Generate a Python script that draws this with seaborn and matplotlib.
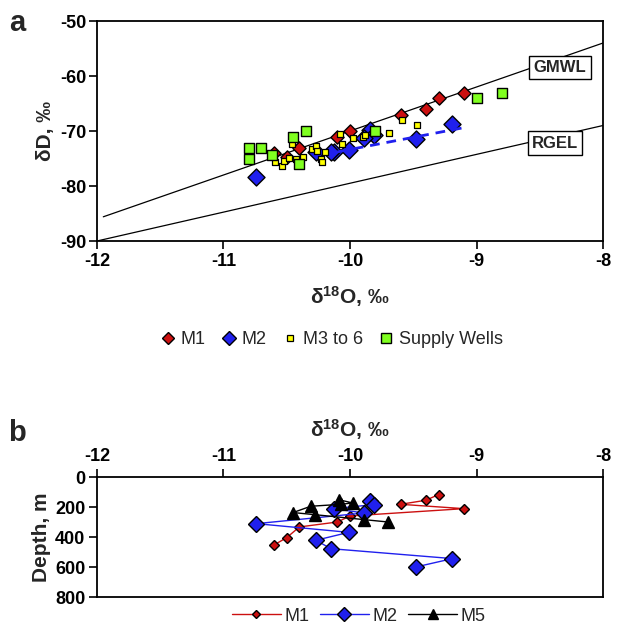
import numpy as np
import pandas as pd
import seaborn as sns
import matplotlib.pyplot as plt
from matplotlib.lines import Line2D

# ---- panel a: dD vs d18O ----
m1_o18 = [-9.3, -9.4, -9.6, -9.1, -10.0, -10.1, -10.4, -10.5, -10.6]
m1_dD = [-64.0, -66.0, -67.0, -63.0, -70.0, -71.0, -73.0, -74.8, -74.0]
m1_depth = [117, 155, 182, 211, 260, 300, 333, 404, 453]

m2_o18 = [-9.84, -9.81, -10.13, -9.89, -10.74, -10.01, -10.27, -10.15, -9.19, -9.48]
m2_dD = [-69.9, -70.7, -73.9, -71.2, -78.3, -73.4, -73.8, -73.9, -68.8, -71.5]
m2_depth = [160, 184, 211, 240, 311, 369, 422, 478, 544, 600]

m5_o18 = [-10.09, -9.98, -10.07, -10.31, -10.45, -10.28, -9.89, -9.70]
m5_depth = [151, 173, 182, 195, 237, 251, 284, 300]

m36_o18 = [-10.46, -10.59, -10.54, -10.52, -10.48, -10.43, -10.37, -10.30, -10.27, -10.26,
           -10.23, -10.22, -10.20, -10.08, -10.06, -9.98, -9.90, -9.88, -9.69, -9.59, -9.47]
m36_dD = [-72.4, -75.7, -76.4, -75.4, -74.9, -75.0, -74.8, -73.3, -72.8, -73.6,
          -75.0, -75.6, -73.9, -70.6, -72.3, -71.3, -71.0, -70.8, -70.4, -68.0, -68.9]

sw_o18 = [-10.8, -10.8, -10.7, -10.62, -10.45, -10.35, -10.4, -9.8, -9.0, -8.8]
sw_dD = [-73.0, -75.0, -73.0, -74.3, -71.0, -70.0, -76.0, -70.0, -64.0, -63.0]

# meteoric water lines and M2 trend
gmwl_x = np.array([-11.95, -8.0])
gmwl_d = 8 * gmwl_x + 10
rgel_x = [-12.0, -8.0]
rgel_d = [-90.0, -69.0]
trend_x = [-10.1, -9.08]
trend_d = [-73.8, -69.3]

RED = "#cc1010"
BLUE = "#2020ee"
YEL = "#ffff00"
GRN = "#80ff20"

sns.set_style("ticks")
plt.rcParams['font.family'] = ['Liberation Sans', 'DejaVu Sans']
plt.rcParams['axes.unicode_minus'] = False
plt.rcParams['mathtext.fontset'] = 'custom'
plt.rcParams['mathtext.rm'] = 'Liberation Sans:bold'
plt.rcParams['mathtext.bf'] = 'Liberation Sans:bold'

fig = plt.figure(figsize=(6.24, 6.25), dpi=100)
ax = fig.add_axes([0.1554, 0.6144, 0.811, 0.352])
ax2 = fig.add_axes([0.1554, 0.0448, 0.811, 0.192])

ax.plot(gmwl_x, gmwl_d, color="black", lw=0.9, zorder=1)
ax.plot(rgel_x, rgel_d, color="black", lw=0.9, zorder=1)

sns.scatterplot(x=m1_o18, y=m1_dD, marker="D", s=45, color=RED, edgecolor="black",
                linewidth=1.0, ax=ax, zorder=3)
sns.scatterplot(x=m2_o18, y=m2_dD, marker="D", s=75, color=BLUE, edgecolor="black",
                linewidth=1.0, ax=ax, zorder=3)
ax.plot(trend_x, trend_d, color=BLUE, lw=2.0, dashes=(3.5, 2.5), zorder=3)
sns.scatterplot(x=m36_o18, y=m36_dD, marker="s", s=16, color=YEL, edgecolor="black",
                linewidth=0.9, ax=ax, zorder=4)
sns.scatterplot(x=sw_o18, y=sw_dD, marker="s", s=50, color=GRN, edgecolor="black",
                linewidth=1.0, ax=ax, zorder=4)

box = dict(facecolor="white", edgecolor="black", boxstyle="square,pad=0.25", lw=1.0)
ax.text(-8.34, -58.4, "GMWL", fontsize=12, fontweight="bold", ha="center", va="center", bbox=box, zorder=5)
ax.text(-8.38, -72.2, "RGEL", fontsize=12, fontweight="bold", ha="center", va="center", bbox=box, zorder=5)

ax.set_xlim(-12, -8)
ax.set_ylim(-90, -50)
ax.set_xticks([-12, -11, -10, -9, -8])
ax.set_yticks([-90, -80, -70, -60, -50])
ax.set_xlabel(r"$\mathbf{\delta^{18}O}$, ‰", fontsize=15, fontweight="bold", labelpad=10)
ax.set_ylabel("δD, ‰", fontsize=15, fontweight="bold", labelpad=4)

# ---- panel b: depth profiles ----
prof = pd.concat([
    pd.DataFrame({"o18": m1_o18, "depth": m1_depth, "well": "M1"}),
    pd.DataFrame({"o18": m2_o18, "depth": m2_depth, "well": "M2"}),
    pd.DataFrame({"o18": m5_o18, "depth": m5_depth, "well": "M5"}),
])
styles = {"M1": (RED, "D", 5, 1.0), "M2": (BLUE, "D", 8, 1.0), "M5": ("black", "^", 8, 1.0)}
for well, (c, mk, ms, lw) in styles.items():
    sub = prof[prof["well"] == well]
    sns.lineplot(data=sub, x="o18", y="depth", sort=False, estimator=None, color=c, lw=lw,
                 marker=mk, markersize=ms, markerfacecolor=c, markeredgecolor="black",
                 markeredgewidth=1.0, ax=ax2)

ax2.set_xlim(-12, -8)
ax2.set_ylim(800, 0)
ax2.set_xticks([-12, -11, -10, -9, -8])
ax2.set_yticks([0, 200, 400, 600, 800])
ax2.xaxis.tick_top()
ax2.xaxis.set_label_position("top")
ax2.set_xlabel(r"$\mathbf{\delta^{18}O}$, ‰", fontsize=15, fontweight="bold", labelpad=8)
ax2.set_ylabel("Depth, m", fontsize=15, fontweight="bold", labelpad=3)

for a in (ax, ax2):
    for sp in a.spines.values():
        sp.set_visible(True)
        sp.set_linewidth(1.3)
        sp.set_color("black")
    a.tick_params(direction="out", length=5.5, width=1.2, labelsize=13, colors="black", pad=3)
    for lab in a.get_xticklabels() + a.get_yticklabels():
        lab.set_fontweight("bold")
ax.tick_params(axis="y", pad=2)

fig.text(0.028, 0.963, "a", fontsize=21, fontweight="bold", ha="center", va="center")
fig.text(0.028, 0.307, "b", fontsize=21, fontweight="bold", ha="center", va="center")

h1 = [Line2D([], [], ls="none", marker="D", ms=6, mfc=RED, mec="black", mew=1.0),
      Line2D([], [], ls="none", marker="D", ms=7, mfc=BLUE, mec="black", mew=1.0),
      Line2D([], [], ls="none", marker="s", ms=4, mfc=YEL, mec="black", mew=0.9),
      Line2D([], [], ls="none", marker="s", ms=6.5, mfc=GRN, mec="black", mew=1.0)]
fig.legend(h1, ["M1", "M2", "M3 to 6", "Supply Wells"], loc="center", bbox_to_anchor=(0.53, 0.456),
           ncol=4, frameon=False, fontsize=13, handletextpad=0.2, columnspacing=0.8, handlelength=1.0)

h2 = [Line2D([], [], color=RED, lw=1.0, marker="D", ms=4.5, mfc=RED, mec="black"),
      Line2D([], [], color=BLUE, lw=1.0, marker="D", ms=7, mfc=BLUE, mec="black"),
      Line2D([], [], color="black", lw=1.0, marker="^", ms=7, mfc="black", mec="black")]
fig.legend(h2, ["M1", "M2", "M5"], loc="center", bbox_to_anchor=(0.575, 0.014),
           ncol=3, frameon=False, fontsize=13, handletextpad=0.2, columnspacing=0.6, handlelength=2.7)

fig.savefig("out.png", dpi=100)
